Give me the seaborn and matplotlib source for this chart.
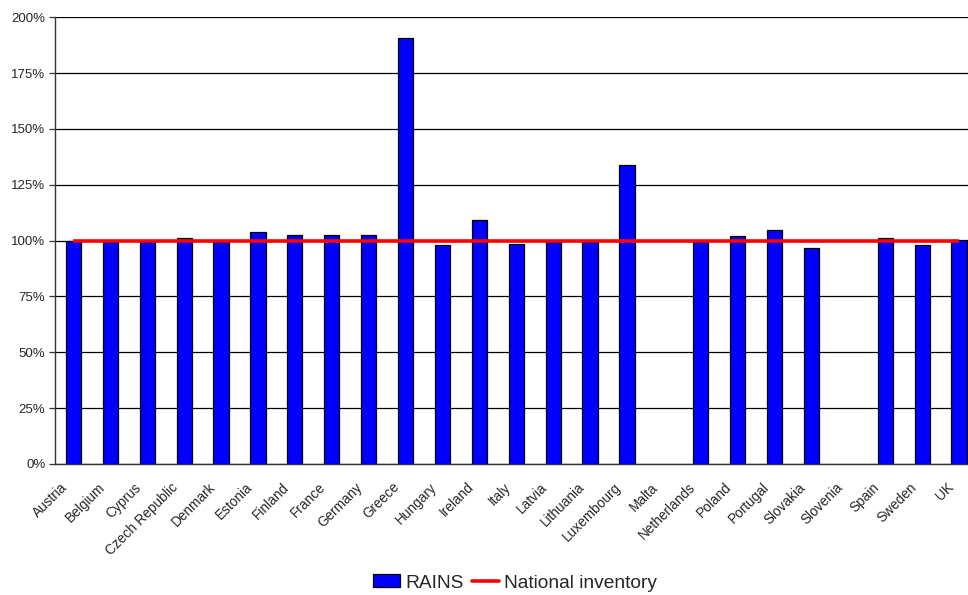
import numpy as np
import pandas as pd
import matplotlib
matplotlib.use("Agg")
import matplotlib.pyplot as plt
import matplotlib.transforms as mtransforms
from matplotlib.ticker import PercentFormatter
from matplotlib.patches import Patch
from matplotlib.lines import Line2D
import seaborn as sns

countries = ["Austria", "Belgium", "Cyprus", "Czech Republic", "Denmark", "Estonia",
             "Finland", "France", "Germany", "Greece", "Hungary", "Ireland", "Italy",
             "Latvia", "Lithuania", "Luxembourg", "Malta", "Netherlands", "Poland",
             "Portugal", "Slovakia", "Slovenia", "Spain", "Sweden", "UK"]
rains = [99.8, 99.5, 99.2, 101.1, 99.2, 103.8, 102.6, 102.5, 102.4, 190.9,
         98.2, 109.1, 98.3, 99.6, 99.5, 133.9, np.nan, 99.5, 101.9, 104.7,
         96.5, np.nan, 101.1, 98.2, 100.4]
national = [100.0] * len(countries)
y_ticks = [0, 25, 50, 75, 100, 125, 150, 175, 200]

df = pd.DataFrame({"country": countries, "RAINS": rains})

sns.set_style("white")
plt.rcParams["font.family"] = ["Liberation Sans", "DejaVu Sans"]

fig = plt.figure(figsize=(9.68, 5.95), dpi=100)
ax = fig.add_axes([55 / 968, 131 / 595, 922.5 / 968, 446.7 / 595])

sns.barplot(data=df, x="country", y="RAINS", order=countries, color="#0000FF",
            saturation=1, width=0.41, edgecolor="black", linewidth=0.9, ax=ax,
            zorder=3)
ax.plot(np.arange(len(countries)), national, color="#FF0000", lw=2.6, zorder=4,
        solid_capstyle="butt")

ax.set_xlim(-0.5, len(countries) - 0.5)
ax.set_ylim(0, 200)
ax.set_yticks(y_ticks)
ax.yaxis.set_major_formatter(PercentFormatter(decimals=0))
ax.grid(axis="y", color="black", lw=0.9, zorder=0)
ax.set_axisbelow(True)
ax.set_xlabel("")
ax.set_ylabel("")

for side in ["top", "right"]:
    ax.spines[side].set_visible(False)
for side in ["left", "bottom"]:
    ax.spines[side].set_color("#333333")
    ax.spines[side].set_linewidth(1.0)

ax.tick_params(axis="y", which="major", length=4, width=0.9, color="#333333",
               labelsize=9.5, pad=3, left=True)
ax.tick_params(axis="x", length=0, labelsize=9.8, pad=0)

# rotated category labels, ending just left of and below each bar
shift = mtransforms.ScaledTranslation(-8 / 100, -21 / 100, fig.dpi_scale_trans)
for lbl in ax.get_xticklabels():
    lbl.set_rotation(45)
    lbl.set_ha("right")
    lbl.set_va("center")
    lbl.set_rotation_mode("anchor")
    lbl.set_transform(lbl.get_transform() + shift)

handles = [Patch(facecolor="#0000FF", edgecolor="black", linewidth=0.9, label="RAINS"),
           Line2D([0], [0], color="#FF0000", lw=2.6, label="National inventory")]
fig.legend(handles=handles, loc="center", bbox_to_anchor=(515 / 968, 12 / 595),
           ncol=2, frameon=False, fontsize=13.8, handlelength=1.4, handleheight=0.65,
           handletextpad=0.25, columnspacing=0.45, borderaxespad=0)

fig.savefig("out.png", dpi=100)
